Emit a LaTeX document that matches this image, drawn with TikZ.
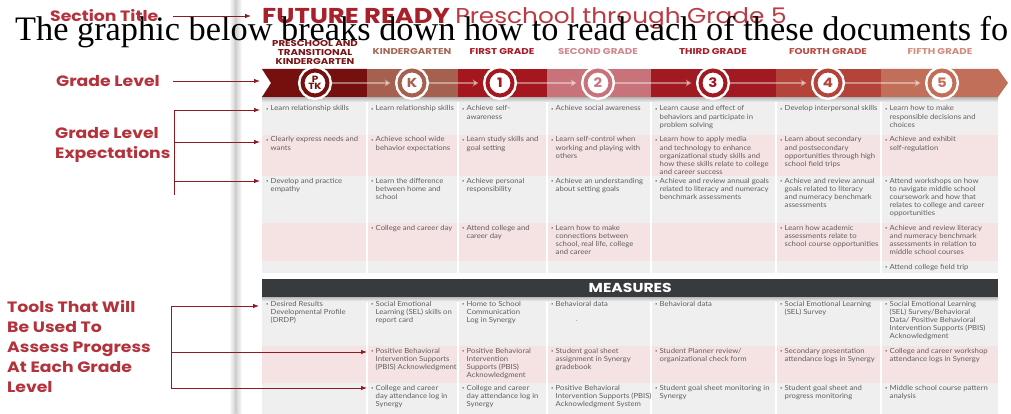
\documentclass[tikz,border=0pt]{standalone}
\usepackage{fontspec}
\setmainfont{Liberation Serif}
\newfontfamily\pop[FakeStretch=1.15]{Poppins}
\newfontfamily\poph[FakeStretch=1.2]{Poppins}
\newfontfamily\tb[FakeStretch=1.1]{Lato}
\usetikzlibrary{arrows.meta}
\definecolor{lab}{HTML}{B3323B}
\definecolor{arrc}{HTML}{8E1B22}
\definecolor{cPTK}{HTML}{76100F}
\definecolor{cK}{HTML}{A6604F}
\definecolor{cI}{HTML}{A4171F}
\definecolor{cII}{HTML}{C8737A}
\definecolor{cIII}{HTML}{A11A22}
\definecolor{cIV}{HTML}{B4443A}
\definecolor{cV}{HTML}{C26F5A}
\definecolor{hPTK}{HTML}{7A1518}
\definecolor{hK}{HTML}{A86655}
\definecolor{hI}{HTML}{A81C25}
\definecolor{hII}{HTML}{D0878D}
\definecolor{hIII}{HTML}{A81C25}
\definecolor{hIV}{HTML}{B84A40}
\definecolor{hV}{HTML}{D08C7C}
\definecolor{rowg}{HTML}{EFEFEF}
\definecolor{rowp}{HTML}{F5E3E3}
\definecolor{txt}{HTML}{5F5F5F}
\definecolor{barc}{HTML}{383B3E}
\definecolor{ttl}{HTML}{A8202A}
\definecolor{ttl2}{HTML}{BC3A44}
\newcommand\Cell[4]{\node[cell] (#1) at (#2,#3) {\makebox[4.5pt][l]{\raisebox{0.8pt}{\fontsize{3.8}{4}\selectfont •}}\begin{tabular}[t]{@{}l@{}}#4\end{tabular}};}
\tikzset{
  cell/.style={anchor=base west, inner sep=0pt, text=txt, font=\tb\fontsize{7}{8.15}\selectfont},
  lbl/.style={text=lab, font=\pop\bfseries\fontsize{15}{20}\selectfont, inner sep=0pt, align=left},
  arrl/.style={draw=arrc, line width=0.8pt},
  arra/.style={arrl, -{Latex[length=6pt,width=4.5pt]}},
  gcirc/.style={circle, minimum size=25pt, inner sep=0pt, fill=white, draw=#1, line width=4pt, text=#1,
     preaction={draw=white, line width=9pt}, font=\pop\bfseries\fontsize{13}{13}\selectfont},
  barrow/.style={white, opacity=0.4, line width=1.6pt, -{Stealth[length=6pt,width=7pt]}, shorten <=2.5pt, shorten >=7pt},
  hdr/.style={text=#1, font=\poph\bfseries\fontsize{8.5}{9}\selectfont, inner sep=0pt, align=center}
}
\begin{document}
\begin{tikzpicture}[x=1pt,y=-1pt]
\useasboundingbox (0,0) rectangle (1011,414);
\fill[white] (0,0) rectangle (1011,414);
% page edge shadow
\shade[left color=white, right color=gray!38] (229,0) rectangle (235.5,414);
\shade[left color=gray!38, right color=white] (235.5,0) rectangle (242,414);

% title
\node[anchor=base west, inner sep=0pt, text=ttl, font=\poph\bfseries\fontsize{21.5}{21}\selectfont] (title) at (262,23.5) {FUTURE READY};
\node[anchor=base west, inner sep=0pt, text=ttl2, font=\pop\fontsize{21.5}{21}\selectfont] (subtitle) at ([xshift=5pt]title.base east) {Preschool through Grade 5};

% headers
\node[hdr=hPTK] (hdPTK) at (315,52) {PRESCHOOL AND\\TRANSITIONAL\\KINDERGARTEN};
\node[hdr=hK] (hdK) at (412,52) {KINDERGARTEN};
\node[hdr=hI] (hdI) at (502,52) {FIRST GRADE};
\node[hdr=hII] (hdII) at (598,52) {SECOND GRADE};
\node[hdr=hIII] (hdIII) at (713,52) {THIRD GRADE};
\node[hdr=hIV] (hdIV) at (828,52) {FOURTH GRADE};
\node[hdr=hV] (hdV) at (940,52) {FIFTH GRADE};

% table rows
\fill[rowg] (262,97) rectangle (998,135);
\fill[rowp] (262,135) rectangle (998,176);
\fill[rowg] (262,176) rectangle (998,223);
\fill[rowp] (262,223) rectangle (998,261);
\fill[rowg] (262,261) rectangle (998,273);
\fill[rowg] (262,297) rectangle (998,346);
\fill[rowp] (262,346) rectangle (998,383);
\fill[rowg] (262,383) rectangle (998,414);
\foreach \x in {367,458,547,651,776,881}{
  \draw[white, line width=1.2pt] (\x,97) -- (\x,273);
  \draw[white, line width=1.2pt] (\x,297) -- (\x,414);
}
% shadows
\shade[top color=gray!60, bottom color=rowg] (262,97) rectangle (998,102);
\shade[top color=gray!55, bottom color=rowg] (262,297) rectangle (998,301);

% banner
\fill[cPTK] (262,69) -- (271,83) -- (262,97) -- (367,97) -- (367,69) -- cycle;
\fill[cK] (367,69) rectangle (458,97);
\fill[cI] (458,69) rectangle (547,97);
\fill[cII] (547,69) rectangle (651,97);
\fill[cIII] (651,69) rectangle (776,97);
\fill[cIV] (776,69) rectangle (881,97);
\fill[cV] (881,69) -- (998,69) -- (1008,83) -- (998,97) -- (881,97) -- cycle;

\node[gcirc=cPTK, font=\pop\bfseries\fontsize{9}{8}\selectfont, align=center] (nPTK) at (315,83) {P\\[-1pt]TK};
\node[gcirc=cK] (nK) at (412,83) {K};
\node[gcirc=cI] (nI) at (500,83) {1};
\node[gcirc=cII] (nII) at (598,83) {2};
\node[gcirc=cIII] (nIII) at (713,83) {3};
\node[gcirc=cIV] (nIV) at (828,83) {4};
\node[gcirc=cV] (nV) at (942,83) {5};
\draw[barrow] (nPTK) -- (nK);
\draw[barrow] (nK) -- (nI);
\draw[barrow] (nI) -- (nII);
\draw[barrow] (nII) -- (nIII);
\draw[barrow] (nIII) -- (nIV);
\draw[barrow] (nIV) -- (nV);

% measures bar
\node[fill=barc, minimum width=736pt, minimum height=18pt, anchor=north west, inner sep=0pt, text=white,
  font=\poph\bfseries\fontsize{13}{13}\selectfont] (measures) at (262,279) {MEASURES};

% expectation cells
\Cell{r1a}{266}{111}{Learn relationship skills}
\Cell{r1b}{371}{111}{Learn relationship skills}
\Cell{r1c}{462}{111}{Achieve self-\\awareness}
\Cell{r1d}{551}{111}{Achieve social awareness}
\Cell{r1e}{655}{111}{Learn cause and effect of\\behaviors and participate in\\problem solving}
\Cell{r1f}{780}{111}{Develop interpersonal skills}
\Cell{r1g}{885}{111}{Learn how to make\\responsible decisions and\\choices}

\Cell{r2a}{266}{142}{Clearly express needs and\\wants}
\Cell{r2b}{371}{142}{Achieve school wide\\behavior expectations}
\Cell{r2c}{462}{142}{Learn study skills and\\goal setting}
\Cell{r2d}{551}{142}{Learn self-control when\\working and playing with\\others}
\Cell{r2e}{655}{142}{Learn how to apply media\\and technology to enhance\\organizational study skills and\\how these skills relate to college\\and career success}
\Cell{r2f}{780}{142}{Learn about secondary\\and postsecondary\\opportunities through high\\school field trips}
\Cell{r2g}{885}{142}{Achieve and exhibit\\self-regulation}

\Cell{r3a}{266}{183}{Develop and practice\\empathy}
\Cell{r3b}{371}{183}{Learn the difference\\between home and\\school}
\Cell{r3c}{462}{183}{Achieve personal\\responsibility}
\Cell{r3d}{551}{183}{Achieve an understanding\\about setting goals}
\Cell{r3e}{655}{183}{Achieve and review annual goals\\related to literacy and numeracy\\benchmark assessments}
\Cell{r3f}{780}{183}{Achieve and review annual\\goals related to literacy\\and numeracy benchmark\\assessments}
\Cell{r3g}{885}{183}{Attend workshops on how\\to navigate middle school\\coursework and how that\\relates to college and career\\opportunities}

\Cell{r4b}{371}{230}{College and career day}
\Cell{r4c}{462}{230}{Attend college and\\career day}
\Cell{r4d}{551}{230}{Learn how to make\\connections between\\school, real life, college\\and career}
\Cell{r4f}{780}{230}{Learn how academic\\assessments relate to\\school course opportunities}
\Cell{r4g}{885}{230}{Achieve and review literacy\\and numeracy benchmark\\assessments in relation to\\middle school courses}

\Cell{r5g}{885}{269}{Attend college field trip}

% measures cells
\Cell{m1a}{266}{306}{Desired Results\\Developmental Profile\\(DRDP)}
\Cell{m1b}{371}{306}{Social Emotional\\Learning (SEL) skills on\\report card}
\Cell{m1c}{462}{306}{Home to School\\Communication\\Log in Synergy}
\Cell{m1d}{551}{306}{Behavioral data}
\node[inner sep=0pt, text=txt, font=\tb\fontsize{6}{6}\selectfont] (dot) at (577,321) {.};
\Cell{m1e}{655}{306}{Behavioral data}
\Cell{m1f}{780}{306}{Social Emotional Learning\\(SEL) Survey}
\Cell{m1g}{885}{306}{Social Emotional Learning\\(SEL) Survey/Behavioral\\Data/ Positive Behavioral\\Intervention Supports (PBIS)\\Acknowledgment}

\Cell{m2b}{371}{353}{Positive Behavioral\\Intervention Supports\\(PBIS) Acknowledgment}
\Cell{m2c}{462}{353}{Positive Behavioral\\Intervention\\Supports (PBIS)\\Acknowledgment}
\Cell{m2d}{551}{353}{Student goal sheet\\assignment in Synergy\\gradebook}
\Cell{m2e}{655}{353}{Student Planner review/\\organizational check form}
\Cell{m2f}{780}{353}{Secondary presentation\\attendance logs in Synergy}
\Cell{m2g}{885}{353}{College and career workshop\\attendance logs in Synergy}

\Cell{m3b}{371}{390}{College and career\\day attendance log in\\Synergy}
\Cell{m3c}{462}{390}{College and career\\day attendance log in\\Synergy}
\Cell{m3d}{551}{390}{Positive Behavioral\\Intervention Supports (PBIS)\\Acknowledgment System}
\Cell{m3e}{655}{390}{Student goal sheet monitoring in\\Synergy}
\Cell{m3f}{780}{390}{Student goal sheet and\\progress monitoring}
\Cell{m3g}{885}{390}{Middle school course pattern\\analysis}

% overlay sentence
\node[anchor=base west, inner sep=0pt, text=black] (ovl) at (15,40.5)
  {\resizebox{993pt}{!}{\fontsize{30}{30}\selectfont The graphic below breaks down how to read each of these documents fo}};

% left labels
\node[lbl, anchor=west] (secT) at (50,16) {Section Title};
\node[lbl, anchor=west] (gradeL) at (56,81) {Grade Level};
\node[lbl, anchor=west] (gle) at (55,145) {Grade Level\\Expectations};
\node[lbl, anchor=north west] (tools) at (7,300) {Tools That Will\\Be Used To\\Assess Progress\\At Each Grade\\Level};

% connectors
\coordinate (secA) at (173,16); \coordinate (secB) at (251,16);
\coordinate (glA) at (173,81); \coordinate (glB) at (260,81);
\coordinate (eTop) at (174,110); \coordinate (eBot) at (174,195);
\coordinate (e1) at (260,110); \coordinate (e2m) at (174,142); \coordinate (e2) at (260,142);
\coordinate (e3m) at (174,181); \coordinate (e3) at (260,181);
\coordinate (tTop) at (171,306); \coordinate (tBot) at (171,388);
\coordinate (t1) at (259,306); \coordinate (t2m) at (171,352); \coordinate (t2) at (367,352);
\coordinate (t3) at (367,388);
\draw[arra] (secA) -- (secB);
\draw[arra] (glA) -- (glB);
\draw[arrl] (eTop) -- (eBot);
\draw[arra] (eTop) -- (e1);
\draw[arra] (e2m) -- (e2);
\draw[arra] (e3m) -- (e3);
\draw[arrl] (tTop) -- (tBot);
\draw[arra] (tTop) -- (t1);
\draw[arra] (t2m) -- (t2);
\draw[arra] (tBot) -- (t3);
\end{tikzpicture}
\end{document}
